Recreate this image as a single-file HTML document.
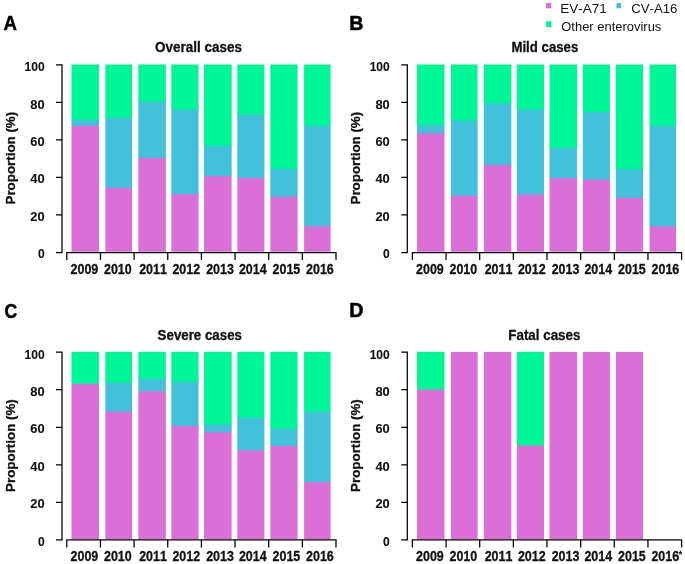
<!DOCTYPE html>
<html lang="en"><head><meta charset="utf-8"><title>Enterovirus serotype proportions</title>
<style>html,body{margin:0;padding:0;background:#fff}svg{display:block}text{font-family:"Liberation Sans",Arial,sans-serif;fill:#111;font-kerning:none}.b{font-weight:bold;stroke:#111;stroke-width:.3px;stroke-linejoin:round}.L{stroke-width:.5px;fill:#000;stroke:#000}.y{stroke-width:.12px}</style></head><body>
<svg width="685" height="564" viewBox="0 0 685 564">
<rect width="685" height="564" fill="#fff"/>
<g transform="translate(0,0)">
<rect x="71.5" y="124.8" width="27.5" height="127" fill="#DA70D6"/>
<rect x="71.5" y="118.9" width="27.5" height="6.9" fill="#43C1DA"/>
<rect x="71.5" y="64.5" width="27.5" height="55.4" fill="#00F596"/>
<rect x="105.4" y="186.9" width="26.7" height="64.9" fill="#DA70D6"/>
<rect x="105.4" y="117" width="26.7" height="70.9" fill="#43C1DA"/>
<rect x="105.4" y="64.5" width="26.7" height="53.5" fill="#00F596"/>
<rect x="138.3" y="156.9" width="27.55" height="94.9" fill="#DA70D6"/>
<rect x="138.3" y="100.9" width="27.55" height="57" fill="#43C1DA"/>
<rect x="138.3" y="64.5" width="27.55" height="37.4" fill="#00F596"/>
<rect x="171.35" y="193.05" width="27.2" height="58.75" fill="#DA70D6"/>
<rect x="171.35" y="108.5" width="27.2" height="85.55" fill="#43C1DA"/>
<rect x="171.35" y="64.5" width="27.2" height="45" fill="#00F596"/>
<rect x="204" y="175.1" width="27.65" height="76.7" fill="#DA70D6"/>
<rect x="204" y="145.2" width="27.65" height="30.9" fill="#43C1DA"/>
<rect x="204" y="64.5" width="27.65" height="81.7" fill="#00F596"/>
<rect x="237.3" y="176.9" width="27.1" height="74.9" fill="#DA70D6"/>
<rect x="237.3" y="113.6" width="27.1" height="64.3" fill="#43C1DA"/>
<rect x="237.3" y="64.5" width="27.1" height="50.1" fill="#00F596"/>
<rect x="270.3" y="195.7" width="27.3" height="56.1" fill="#DA70D6"/>
<rect x="270.3" y="168" width="27.3" height="28.7" fill="#43C1DA"/>
<rect x="270.3" y="64.5" width="27.3" height="104.5" fill="#00F596"/>
<rect x="304.1" y="225.3" width="26.5" height="26.5" fill="#DA70D6"/>
<rect x="304.1" y="124.8" width="26.5" height="101.5" fill="#43C1DA"/>
<rect x="304.1" y="64.5" width="26.5" height="61.3" fill="#00F596"/>
<path d="M62 64.2V253.1M56 252.5H62M56 214.96H62M56 177.42H62M56 139.88H62M56 102.34H62M56 64.8H62M66.2 252.55H336.6M66.8 252.5V260.1M100.45 252.5V260.1M134.1 252.5V260.1M167.75 252.5V260.1M201.4 252.5V260.1M235.05 252.5V260.1M268.7 252.5V260.1M302.35 252.5V260.1M336 252.5V260.1" fill="none" stroke="#000" stroke-width="1.25"/>
</g>
<g transform="translate(345.5,0)">
<rect x="71.5" y="132.2" width="27.5" height="119.6" fill="#DA70D6"/>
<rect x="71.5" y="124.4" width="27.5" height="8.8" fill="#43C1DA"/>
<rect x="71.5" y="64.5" width="27.5" height="60.9" fill="#00F596"/>
<rect x="105.4" y="194.7" width="26.7" height="57.1" fill="#DA70D6"/>
<rect x="105.4" y="119.7" width="26.7" height="76" fill="#43C1DA"/>
<rect x="105.4" y="64.5" width="26.7" height="56.2" fill="#00F596"/>
<rect x="138.3" y="164" width="27.55" height="87.8" fill="#DA70D6"/>
<rect x="138.3" y="102.5" width="27.55" height="62.5" fill="#43C1DA"/>
<rect x="138.3" y="64.5" width="27.55" height="39" fill="#00F596"/>
<rect x="171.35" y="193.5" width="27.2" height="58.3" fill="#DA70D6"/>
<rect x="171.35" y="108.7" width="27.2" height="85.8" fill="#43C1DA"/>
<rect x="171.35" y="64.5" width="27.2" height="45.2" fill="#00F596"/>
<rect x="204" y="177.1" width="27.65" height="74.7" fill="#DA70D6"/>
<rect x="204" y="146.9" width="27.65" height="31.2" fill="#43C1DA"/>
<rect x="204" y="64.5" width="27.65" height="83.4" fill="#00F596"/>
<rect x="237.3" y="178.7" width="27.1" height="73.1" fill="#DA70D6"/>
<rect x="237.3" y="111.1" width="27.1" height="68.6" fill="#43C1DA"/>
<rect x="237.3" y="64.5" width="27.1" height="47.6" fill="#00F596"/>
<rect x="270.3" y="196.9" width="27.3" height="54.9" fill="#DA70D6"/>
<rect x="270.3" y="168.4" width="27.3" height="29.5" fill="#43C1DA"/>
<rect x="270.3" y="64.5" width="27.3" height="104.9" fill="#00F596"/>
<rect x="304.1" y="225.3" width="26.5" height="26.5" fill="#DA70D6"/>
<rect x="304.1" y="125" width="26.5" height="101.3" fill="#43C1DA"/>
<rect x="304.1" y="64.5" width="26.5" height="61.5" fill="#00F596"/>
<path d="M61.8 64.2V253.1M55.8 252.5H61.8M55.8 214.96H61.8M55.8 177.42H61.8M55.8 139.88H61.8M55.8 102.34H61.8M55.8 64.8H61.8M66.3 252.55H336.7M66.9 252.5V260.1M100.55 252.5V260.1M134.2 252.5V260.1M167.85 252.5V260.1M201.5 252.5V260.1M235.15 252.5V260.1M268.8 252.5V260.1M302.45 252.5V260.1M336.1 252.5V260.1" fill="none" stroke="#000" stroke-width="1.25"/>
</g>
<g transform="translate(0,287.4)">
<rect x="71.5" y="95.4" width="27.5" height="156.4" fill="#DA70D6"/>
<rect x="71.5" y="64.5" width="27.5" height="31.9" fill="#00F596"/>
<rect x="105.4" y="123.2" width="26.7" height="128.6" fill="#DA70D6"/>
<rect x="105.4" y="94.2" width="26.7" height="30" fill="#43C1DA"/>
<rect x="105.4" y="64.5" width="26.7" height="30.7" fill="#00F596"/>
<rect x="138.3" y="102.8" width="27.55" height="149" fill="#DA70D6"/>
<rect x="138.3" y="90.5" width="27.55" height="13.3" fill="#43C1DA"/>
<rect x="138.3" y="64.5" width="27.55" height="27" fill="#00F596"/>
<rect x="171.35" y="137.5" width="27.2" height="114.3" fill="#DA70D6"/>
<rect x="171.35" y="93.6" width="27.2" height="44.9" fill="#43C1DA"/>
<rect x="171.35" y="64.5" width="27.2" height="30.1" fill="#00F596"/>
<rect x="204" y="143.8" width="27.65" height="108" fill="#DA70D6"/>
<rect x="204" y="135.9" width="27.65" height="8.9" fill="#43C1DA"/>
<rect x="204" y="64.5" width="27.65" height="72.4" fill="#00F596"/>
<rect x="237.3" y="162" width="27.1" height="89.8" fill="#DA70D6"/>
<rect x="237.3" y="129.4" width="27.1" height="33.6" fill="#43C1DA"/>
<rect x="237.3" y="64.5" width="27.1" height="65.9" fill="#00F596"/>
<rect x="270.3" y="157.6" width="27.3" height="94.2" fill="#DA70D6"/>
<rect x="270.3" y="140.2" width="27.3" height="18.4" fill="#43C1DA"/>
<rect x="270.3" y="64.5" width="27.3" height="76.7" fill="#00F596"/>
<rect x="304.1" y="193.7" width="26.5" height="58.1" fill="#DA70D6"/>
<rect x="304.1" y="123.4" width="26.5" height="71.3" fill="#43C1DA"/>
<rect x="304.1" y="64.5" width="26.5" height="59.9" fill="#00F596"/>
<path d="M62 64.2V253.1M56 252.5H62M56 214.96H62M56 177.42H62M56 139.88H62M56 102.34H62M56 64.8H62M66.2 252.55H336.6M66.8 252.5V260.1M100.45 252.5V260.1M134.1 252.5V260.1M167.75 252.5V260.1M201.4 252.5V260.1M235.05 252.5V260.1M268.7 252.5V260.1M302.35 252.5V260.1M336 252.5V260.1" fill="none" stroke="#000" stroke-width="1.25"/>
</g>
<g transform="translate(345.5,287.4)">
<rect x="71.5" y="101.2" width="27.5" height="150.6" fill="#DA70D6"/>
<rect x="71.5" y="64.5" width="27.5" height="37.7" fill="#00F596"/>
<rect x="105.4" y="64.5" width="26.7" height="187.3" fill="#DA70D6"/>
<rect x="138.3" y="64.5" width="27.55" height="187.3" fill="#DA70D6"/>
<rect x="171.35" y="157" width="27.2" height="94.8" fill="#DA70D6"/>
<rect x="171.35" y="64.5" width="27.2" height="93.5" fill="#00F596"/>
<rect x="204" y="64.5" width="27.65" height="187.3" fill="#DA70D6"/>
<rect x="237.3" y="64.5" width="27.1" height="187.3" fill="#DA70D6"/>
<rect x="270.3" y="64.5" width="27.3" height="187.3" fill="#DA70D6"/>
<path d="M61.8 64.2V253.1M55.8 252.5H61.8M55.8 214.96H61.8M55.8 177.42H61.8M55.8 139.88H61.8M55.8 102.34H61.8M55.8 64.8H61.8M66.3 252.55H336.7M66.9 252.5V260.1M100.55 252.5V260.1M134.2 252.5V260.1M167.85 252.5V260.1M201.5 252.5V260.1M235.15 252.5V260.1M268.8 252.5V260.1M302.45 252.5V260.1M336.1 252.5V260.1" fill="none" stroke="#000" stroke-width="1.25"/>
</g>
<text class="b L" font-size="20" transform="translate(3.6 29.9) scale(0.9357 1)">A</text>
<text class="b L" font-size="20" transform="translate(349.22 29.9) scale(0.9846 1)">B</text>
<text class="b L" font-size="20" transform="translate(4.4 317.5) scale(0.8786 1)">C</text>
<text class="b L" font-size="20" transform="translate(349.22 317.3) scale(0.9846 1)">D</text>
<text class="b" font-size="14" transform="translate(155.1 51.9) scale(0.9623 1)">Overall cases</text>
<text class="b" font-size="14" transform="translate(511.4 51.9) scale(0.9461 1)">Mild cases</text>
<text class="b" font-size="14" transform="translate(157.6 339.5) scale(0.9509 1)">Severe cases</text>
<text class="b" font-size="14" transform="translate(508.3 339.5) scale(0.9563 1)">Fatal cases</text>
<text font-size="13.6" transform="translate(560.31 12.7) scale(0.9914 1)">EV-A71</text>
<text font-size="13.6" transform="translate(631.3 12.7) scale(0.9694 1)">CV-A16</text>
<text font-size="13.6" transform="translate(561.3 31.3) scale(0.9532 1)">Other enterovirus</text>
<text class="b" font-size="13.6" transform="translate(15.2 204.5) rotate(-90) scale(0.9823 1)">Proportion (%)</text>
<text class="b y" font-size="13.6" transform="translate(37.9 258.3) scale(0.8857 1)">0</text>
<text class="b y" font-size="13.6" transform="translate(30.3 220.88) scale(0.9478 1)">20</text>
<text class="b y" font-size="13.6" transform="translate(30.3 183.46) scale(0.9478 1)">40</text>
<text class="b y" font-size="13.6" transform="translate(30.3 146.04) scale(0.9478 1)">60</text>
<text class="b y" font-size="13.6" transform="translate(30.3 108.62) scale(0.9478 1)">80</text>
<text class="b y" font-size="13.6" transform="translate(24.6 71.2) scale(0.8815 1)">100</text>
<text class="b" font-size="13.6" transform="translate(360.3 204.5) rotate(-90) scale(0.9823 1)">Proportion (%)</text>
<text class="b y" font-size="13.6" transform="translate(383 258.3) scale(0.8857 1)">0</text>
<text class="b y" font-size="13.6" transform="translate(375.4 220.88) scale(0.9478 1)">20</text>
<text class="b y" font-size="13.6" transform="translate(375.4 183.46) scale(0.9478 1)">40</text>
<text class="b y" font-size="13.6" transform="translate(375.4 146.04) scale(0.9478 1)">60</text>
<text class="b y" font-size="13.6" transform="translate(375.4 108.62) scale(0.9478 1)">80</text>
<text class="b y" font-size="13.6" transform="translate(369.7 71.2) scale(0.8815 1)">100</text>
<text class="b" font-size="13.6" transform="translate(15.2 491.9) rotate(-90) scale(0.9823 1)">Proportion (%)</text>
<text class="b y" font-size="13.6" transform="translate(37.9 545.7) scale(0.8857 1)">0</text>
<text class="b y" font-size="13.6" transform="translate(30.3 508.28) scale(0.9478 1)">20</text>
<text class="b y" font-size="13.6" transform="translate(30.3 470.86) scale(0.9478 1)">40</text>
<text class="b y" font-size="13.6" transform="translate(30.3 433.44) scale(0.9478 1)">60</text>
<text class="b y" font-size="13.6" transform="translate(30.3 396.02) scale(0.9478 1)">80</text>
<text class="b y" font-size="13.6" transform="translate(24.6 358.6) scale(0.8815 1)">100</text>
<text class="b" font-size="13.6" transform="translate(360.3 491.9) rotate(-90) scale(0.9823 1)">Proportion (%)</text>
<text class="b y" font-size="13.6" transform="translate(383 545.7) scale(0.8857 1)">0</text>
<text class="b y" font-size="13.6" transform="translate(375.4 508.28) scale(0.9478 1)">20</text>
<text class="b y" font-size="13.6" transform="translate(375.4 470.86) scale(0.9478 1)">40</text>
<text class="b y" font-size="13.6" transform="translate(375.4 433.44) scale(0.9478 1)">60</text>
<text class="b y" font-size="13.6" transform="translate(375.4 396.02) scale(0.9478 1)">80</text>
<text class="b y" font-size="13.6" transform="translate(369.7 358.6) scale(0.8815 1)">100</text>
<text class="b" font-size="13.8" transform="translate(70.6 274) scale(0.9027 1)">2009</text>
<text class="b" font-size="13.8" transform="translate(104 274) scale(0.9027 1)">2010</text>
<text class="b" font-size="13.8" transform="translate(139.2 274) scale(0.9027 1)">2011</text>
<text class="b" font-size="13.8" transform="translate(172.4 274) scale(0.9027 1)">2012</text>
<text class="b" font-size="13.8" transform="translate(206.2 274) scale(0.9027 1)">2013</text>
<text class="b" font-size="13.8" transform="translate(238.9 274) scale(0.9027 1)">2014</text>
<text class="b" font-size="13.8" transform="translate(272.6 274) scale(0.9027 1)">2015</text>
<text class="b" font-size="13.8" transform="translate(306.1 274) scale(0.9027 1)">2016</text>
<text class="b" font-size="13.8" transform="translate(416.1 274) scale(0.9027 1)">2009</text>
<text class="b" font-size="13.8" transform="translate(449.5 274) scale(0.9027 1)">2010</text>
<text class="b" font-size="13.8" transform="translate(484.7 274) scale(0.9027 1)">2011</text>
<text class="b" font-size="13.8" transform="translate(517.9 274) scale(0.9027 1)">2012</text>
<text class="b" font-size="13.8" transform="translate(551.7 274) scale(0.9027 1)">2013</text>
<text class="b" font-size="13.8" transform="translate(584.4 274) scale(0.9027 1)">2014</text>
<text class="b" font-size="13.8" transform="translate(618.1 274) scale(0.9027 1)">2015</text>
<text class="b" font-size="13.8" transform="translate(651.6 274) scale(0.9027 1)">2016</text>
<text class="b" font-size="13.8" transform="translate(70.6 561.4) scale(0.9027 1)">2009</text>
<text class="b" font-size="13.8" transform="translate(104 561.4) scale(0.9027 1)">2010</text>
<text class="b" font-size="13.8" transform="translate(139.2 561.4) scale(0.9027 1)">2011</text>
<text class="b" font-size="13.8" transform="translate(172.4 561.4) scale(0.9027 1)">2012</text>
<text class="b" font-size="13.8" transform="translate(206.2 561.4) scale(0.9027 1)">2013</text>
<text class="b" font-size="13.8" transform="translate(238.9 561.4) scale(0.9027 1)">2014</text>
<text class="b" font-size="13.8" transform="translate(272.6 561.4) scale(0.9027 1)">2015</text>
<text class="b" font-size="13.8" transform="translate(306.1 561.4) scale(0.9027 1)">2016</text>
<text class="b" font-size="13.8" transform="translate(416.1 561.4) scale(0.9027 1)">2009</text>
<text class="b" font-size="13.8" transform="translate(449.5 561.4) scale(0.9027 1)">2010</text>
<text class="b" font-size="13.8" transform="translate(484.7 561.4) scale(0.9027 1)">2011</text>
<text class="b" font-size="13.8" transform="translate(517.9 561.4) scale(0.9027 1)">2012</text>
<text class="b" font-size="13.8" transform="translate(551.7 561.4) scale(0.9027 1)">2013</text>
<text class="b" font-size="13.8" transform="translate(584.4 561.4) scale(0.9027 1)">2014</text>
<text class="b" font-size="13.8" transform="translate(618.1 561.4) scale(0.9027 1)">2015</text>
<text class="b" font-size="13.8" transform="translate(651.4 561.4) scale(0.9027 1)">2016<tspan font-size="8.5" dy="-4.6">*</tspan></text>
<rect x="546" y="3.1" width="5.3" height="5.2" fill="#DA70D6"/>
<rect x="616.5" y="3.1" width="4.6" height="5.2" fill="#43C1DA"/>
<rect x="546" y="21.3" width="5.5" height="5.7" fill="#00F596"/>
</svg></body></html>
